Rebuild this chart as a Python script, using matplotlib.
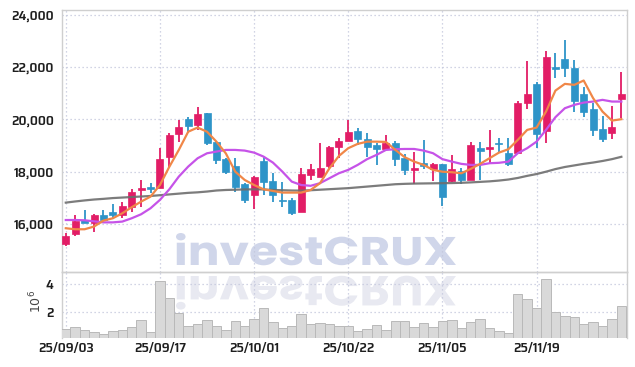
import matplotlib
matplotlib.use("Agg")
import matplotlib.pyplot as plt
import numpy as np
from matplotlib.textpath import TextPath
from matplotlib.patches import PathPatch
from matplotlib.font_manager import FontProperties
from matplotlib.transforms import Affine2D

# trading days 25/09/03 .. 25/12/02
dates = ["25/09/03", "25/09/04", "25/09/05", "25/09/08", "25/09/09", "25/09/10", "25/09/11", "25/09/12",
         "25/09/15", "25/09/16", "25/09/17", "25/09/18", "25/09/19", "25/09/22", "25/09/23", "25/09/24",
         "25/09/25", "25/09/26", "25/09/29", "25/09/30", "25/10/01", "25/10/02", "25/10/10", "25/10/13",
         "25/10/14", "25/10/15", "25/10/16", "25/10/17", "25/10/20", "25/10/21", "25/10/22", "25/10/23",
         "25/10/24", "25/10/27", "25/10/28", "25/10/29", "25/10/30", "25/10/31", "25/11/03", "25/11/04",
         "25/11/05", "25/11/06", "25/11/07", "25/11/10", "25/11/11", "25/11/12", "25/11/13", "25/11/14",
         "25/11/17", "25/11/18", "25/11/19", "25/11/20", "25/11/21", "25/11/24", "25/11/25", "25/11/26",
         "25/11/27", "25/11/28", "25/12/01", "25/12/02"]

opens = [15250, 15610, 16150, 16050, 16350, 16470, 16350, 16660, 17300, 17400,
         17390, 18550, 19430, 20020, 19790, 20240, 19150, 18500, 18220, 17530,
         17110, 18410, 17650, 16920, 16920, 16470, 17890, 17810, 18230, 18960,
         19190, 19550, 19240, 19010, 18870, 19100, 18540, 18080, 18350, 18110,
         18300, 17660, 18030, 17690, 18910, 18880, 19110, 18710, 18730, 20620,
         21350, 19540, 21990, 22320, 21980, 20980, 20400, 19640, 19500, 20800]
highs = [15650, 16340, 16540, 16380, 16540, 16750, 16830, 17330, 17680, 17550,
         18900, 19500, 19960, 20080, 20470, 20240, 19170, 18540, 18520, 17580,
         17840, 18580, 17940, 17620, 17000, 18130, 18290, 19110, 19000, 19280,
         19970, 19690, 19500, 19090, 19400, 19170, 18690, 18770, 19230, 18350,
         18300, 18620, 18140, 19130, 19130, 19600, 19280, 19280, 20690, 22220,
         21450, 22630, 22540, 23050, 22280, 21260, 20620, 20140, 20520, 21830]
lows = [15150, 15520, 16050, 15700, 16150, 16180, 16240, 16450, 16660, 17170,
        17390, 18130, 19140, 19500, 19600, 19030, 18300, 17920, 17240, 16800,
        16560, 17110, 16830, 16650, 16340, 16460, 17690, 17800, 18130, 18520,
        19190, 19030, 18580, 18260, 18860, 18230, 17860, 17530, 18110, 17660,
        16690, 17620, 17530, 17690, 17690, 18300, 18750, 18200, 18730, 20390,
        18900, 19090, 21580, 21640, 20300, 20090, 19370, 19150, 19240, 20050]
closes = [15550, 16130, 16050, 16350, 16150, 16350, 16690, 17210, 17390, 17340,
          18490, 19400, 19730, 19760, 20210, 19110, 18450, 17970, 17400, 16920,
          17790, 17620, 17090, 16860, 16410, 17910, 18100, 18140, 18950, 19180,
          19520, 19240, 18940, 18870, 19100, 18490, 18080, 18130, 18230, 18300,
          17050, 18110, 17690, 19030, 18810, 18950, 19060, 18290, 20620, 20970,
          19430, 22380, 21930, 21960, 20690, 20300, 19600, 19260, 19720, 20980]

ma_short = [15835, 15796, 15796, 15900, 16128, 16217, 16408, 16638, 16855, 17046,
            17490, 18190, 18830, 19530, 19690, 19530, 19150, 18700, 18000, 17684,
            17490, 17327, 17263, 17200, 17200, 17200, 17300, 17560, 18130, 18600,
            18900, 19064, 19150, 19150, 19140, 18834, 18553, 18386, 18260, 18068,
            18000, 17980, 17940, 18106, 18300, 18516, 18730, 18860, 19217, 19600,
            19690, 20300, 21105, 21362, 21324, 21490, 20815, 20300, 19956, 20010]
ma_mid = [16150, 16150, 16140, 16100, 16060, 16060, 16090, 16217, 16370, 16600,
          16920, 17327, 17810, 18195, 18514, 18705, 18770, 18833, 18833, 18808,
          18730, 18578, 18348, 18003, 17620, 17490, 17460, 17560, 17750, 17940,
          18070, 18260, 18480, 18643, 18834, 18860, 18870, 18870, 18808, 18707,
          18480, 18386, 18300, 18260, 18260, 18324, 18340, 18386, 18707, 18900,
          19152, 19600, 20087, 20430, 20558, 20646, 20685, 20750, 20685, 20685]
ma_long = [16816, 16860, 16900, 16935, 16960, 16990, 17010, 17030, 17050, 17070,
           17100, 17130, 17160, 17190, 17210, 17240, 17280, 17300, 17310, 17320,
           17325, 17320, 17300, 17290, 17280, 17275, 17290, 17310, 17330, 17350,
           17370, 17400, 17430, 17460, 17490, 17520, 17535, 17545, 17550, 17555,
           17560, 17565, 17575, 17590, 17610, 17630, 17660, 17700, 17760, 17840,
           17910, 18000, 18100, 18180, 18240, 18300, 18350, 18410, 18480, 18570]

volumes = [820000, 960000, 730000, 590000, 450000, 660000, 730000, 960000, 1460000, 590000,
           4210000, 2990000, 1930000, 1010000, 1150000, 1430000, 1010000, 730000, 1360000, 1010000,
           1530000, 2300000, 1290000, 870000, 1010000, 1860000, 1150000, 1220000, 1150000, 1010000,
           1010000, 660000, 820000, 1080000, 730000, 1360000, 1360000, 960000, 1220000, 960000,
           1360000, 1460000, 890000, 1290000, 1530000, 890000, 680000, 520000, 3270000, 2940000,
           2300000, 4330000, 1980000, 1740000, 1670000, 1150000, 1320000, 1030000, 1530000, 2450000]

tick_idx = [0, 10, 20, 30, 40, 50]
price_ticks = [16000, 18000, 20000, 22000, 24000]
vol_ticks = [2, 4]

RED = "#e21d66"
BLUE = "#2e94c8"
GRID = "#c3c7dc"
SPINE = "#cfcfcf"
TICKFONT = ["Saira SemiCondensed", "Saira Condensed", "DejaVu Sans"]

W, H = 635, 367
fig = plt.figure(figsize=(W / 100, H / 100), dpi=100)
fig.patch.set_facecolor("white")

L, R = 62 / W, 627 / W
ax = fig.add_axes([L, 1 - 272 / H, R - L, (272 - 10) / H])
axv = fig.add_axes([L, 1 - 338 / H, R - L, (338 - 272) / H], sharex=ax)
for a in (ax, axv):
    a.set_facecolor("none")
    for s in a.spines.values():
        s.set_color(SPINE)
        s.set_linewidth(1.0)
    a.tick_params(length=0, colors="#1e1e1e")
axv.spines["bottom"].set_visible(False)

# watermark "investCRUX" and its reflection
fp = FontProperties(family=["Poppins", "DejaVu Sans"], weight="bold")
tp = TextPath((0, 0), "investCRUX", prop=fp, size=100)
ext = tp.get_extents()
sx = 280 / ext.width
sy = 32 / ext.y1
base = Affine2D().translate(-ext.x0, 0)
to_fig = Affine2D().scale(1 / W, 1 / H) + fig.transFigure
wm = PathPatch(tp, facecolor="#d0d6ea", edgecolor="none", zorder=-5,
               transform=base + Affine2D().scale(sx, sy).translate(176, H - 265) + to_fig)
wm_r = PathPatch(tp, facecolor="#e8e9f1", edgecolor="none", zorder=-5,
                 transform=base + Affine2D().scale(sx, -sy * 1.05).translate(176, H - 276) + to_fig)
fig.add_artist(wm)
fig.add_artist(wm_r)

x = np.arange(len(closes))
o = np.array(opens)
c = np.array(closes)
up = c >= o
colors = np.where(up, RED, BLUE)

ax.vlines(x, lows, highs, colors=colors, linewidth=1.3, zorder=3)
bottoms = np.minimum(o, c)
heights = np.maximum(np.abs(c - o), 45)
ax.bar(x, heights, bottom=bottoms, width=0.74, color=colors, edgecolor=colors,
       linewidth=0.5, zorder=4)

ax.plot(x, ma_long, color="#6e6e6e", linewidth=1.6, alpha=0.9, zorder=5)
ax.plot(x, ma_mid, color="#c653e8", linewidth=1.6, zorder=5)
ax.plot(x, ma_short, color="#f08748", linewidth=1.6, zorder=6)

ax.set_xlim(-0.4, 59.6)
ax.set_ylim(14160, 24190)
ax.set_yticks(price_ticks)
ax.set_yticklabels([f"{v:,}" for v in price_ticks], fontsize=10, fontweight=600,
                   family=TICKFONT)
ax.tick_params(axis="y", pad=6)
ax.tick_params(axis="x", labelbottom=False)
ax.set_xticks(tick_idx)
ax.grid(True, linestyle=(0, (1, 2.2)), color=GRID, linewidth=0.9, zorder=0)

vol_m = np.array(volumes) / 1e6
axv.bar(x, vol_m - 0.16, bottom=0.16, width=1.0, color="#d9d9d9", edgecolor="#b9b9b9",
        linewidth=0.7, zorder=3)
axv.set_ylim(0.16, 4.85)
axv.set_yticks(vol_ticks)
axv.set_yticklabels([str(v) for v in vol_ticks], fontsize=10, fontweight=600, family=TICKFONT)
axv.tick_params(axis="y", pad=6)
axv.set_xticks(tick_idx)
axv.set_xticklabels([dates[i] for i in tick_idx], fontsize=10, fontweight=600, family=TICKFONT)
axv.tick_params(axis="x", pad=3)
axv.grid(True, linestyle=(0, (1, 2.2)), color=GRID, linewidth=0.9, zorder=0)
fig.text(36 / W, 1 - 301 / H, r"$10^6$", rotation=90, ha="center", va="center",
         fontsize=9, color="#444444")

fig.savefig("out.png", dpi=100)
